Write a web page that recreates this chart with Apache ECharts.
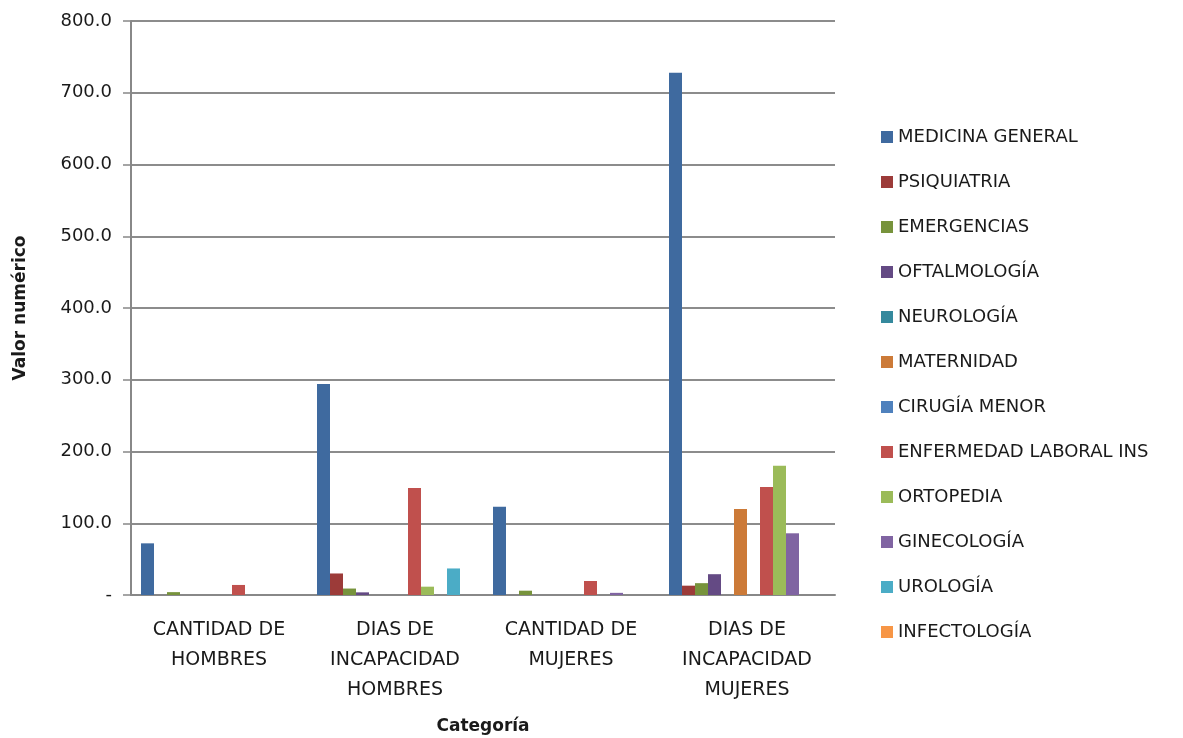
<!DOCTYPE html>
<html>
<head>
<meta charset="utf-8">
<script src="https://cdn.jsdelivr.net/npm/echarts@6/dist/echarts.min.js"></script>
<style>html,body{margin:0;padding:0;background:#fff;overflow:hidden;}#c{width:1183px;height:738px;}</style>
</head>
<body>
<div id="c"></div>
<script>
var categories = ['CANTIDAD DE\nHOMBRES', 'DIAS DE\nINCAPACIDAD\nHOMBRES', 'CANTIDAD DE\nMUJERES', 'DIAS DE\nINCAPACIDAD\nMUJERES'];
var seriesNames = ['MEDICINA GENERAL', 'PSIQUIATRIA', 'EMERGENCIAS', 'OFTALMOLOGÍA', 'NEUROLOGÍA', 'MATERNIDAD', 'CIRUGÍA MENOR', 'ENFERMEDAD LABORAL INS', 'ORTOPEDIA', 'GINECOLOGÍA', 'UROLOGÍA', 'INFECTOLOGÍA'];
var medicinaGeneral = [72, 294, 123, 728];
var psiquiatria = [0, 30, 0, 13];
var emergencias = [4, 9, 6, 16.5];
var oftalmologia = [0, 3.7, 0, 29];
var neurologia = [0, 0, 0, 0];
var maternidad = [0, 0, 0, 120];
var cirugiaMenor = [0, 0, 0, 0];
var enfermedadLaboral = [14, 149, 19.5, 150.5];
var ortopedia = [0, 11.6, 0, 180];
var ginecologia = [0, 0, 3, 86];
var urologia = [0, 37, 0, 0];
var infectologia = [0, 0, 0, 0];
var yTicks = { min: 0, max: 800, interval: 100 };
var colors = ['#3F6A9F', '#9C3B39', '#77933C', '#644A84', '#35899D', '#CC7A38', '#4F81BD', '#C0504D', '#9BBB59', '#8064A2', '#4BACC6', '#F79646'];

var allData = [medicinaGeneral, psiquiatria, emergencias, oftalmologia, neurologia, maternidad, cirugiaMenor, enfermedadLaboral, ortopedia, ginecologia, urologia, infectologia];
var FONT = 'DejaVu Sans';
var series = seriesNames.map(function (n, i) {
  return {
    name: n, type: 'bar', data: allData[i], barWidth: 13, barGap: '0%',
    itemStyle: { color: colors[i] }
  };
});

var chart = echarts.init(document.getElementById('c'));
chart.setOption({
  animation: false,
  color: colors,
  grid: { left: 131, right: 348, top: 21, bottom: 143, containLabel: false, outerBoundsMode: 'none' },
  legend: {
    orient: 'vertical', left: 876, top: 122,
    itemWidth: 12, itemHeight: 12, itemGap: 25, icon: 'rect',
    textStyle: { fontFamily: FONT, fontSize: 18, color: '#1a1a1a', lineHeight: 20 },
    data: seriesNames
  },
  xAxis: {
    type: 'category', data: categories,
    name: 'Categoría', nameLocation: 'middle', nameGap: 123,
    nameTextStyle: { fontFamily: FONT, fontSize: 17, fontWeight: 'bold', color: '#1a1a1a' },
    axisLine: { lineStyle: { color: '#888', width: 2 } },
    axisTick: { show: false },
    axisLabel: { fontFamily: FONT, fontSize: 19, color: '#1a1a1a', lineHeight: 30, margin: 20, interval: 0 }
  },
  yAxis: {
    type: 'value', min: yTicks.min, max: yTicks.max, interval: yTicks.interval,
    name: 'Valor numérico', nameLocation: 'middle', nameGap: 102,
    nameTextStyle: { fontFamily: FONT, fontSize: 17, fontWeight: 'bold', color: '#1a1a1a' },
    axisLine: { show: true, lineStyle: { color: '#888', width: 2 } },
    axisTick: { show: true, length: 8, lineStyle: { color: '#888', width: 1.5 } },
    splitLine: { lineStyle: { color: '#8c8c8c', width: 2 } },
    axisLabel: {
      fontFamily: FONT, fontSize: 18, color: '#1a1a1a', margin: 19,
      formatter: function (v) { return v === 0 ? '-' : v.toFixed(1); }
    }
  },
  series: series
});
</script>
</body>
</html>
